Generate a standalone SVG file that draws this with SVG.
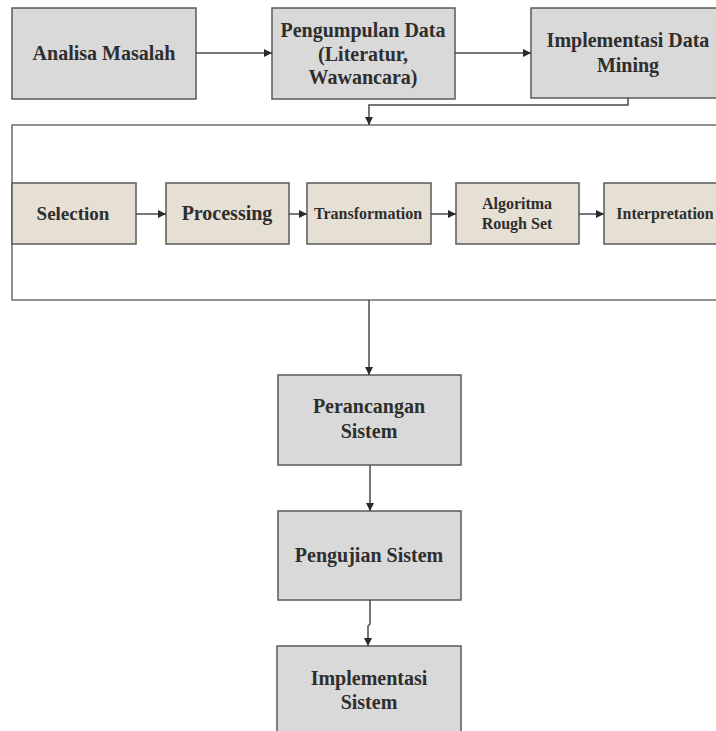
<svg xmlns="http://www.w3.org/2000/svg" width="716" height="731" viewBox="0 0 716 731">
<style>
.g{fill:#d9d9d9;stroke:#5a5a5a;stroke-width:1.5}
.b{fill:#e6e0d4;stroke:#5a5a5a;stroke-width:1.5}
.fr{fill:#ffffff;stroke:#6e6e6e;stroke-width:1.5}
.t{font-family:"Liberation Serif","Times New Roman",serif;font-weight:bold;fill:#2e2e2e;text-anchor:middle;font-size:20px}
.s{font-size:16px}
.c{fill:none;stroke:#4a4a4a;stroke-width:1.5}
</style>
<defs>
<marker id="ah" viewBox="0 0 10 10" refX="10" refY="5" markerWidth="8" markerHeight="8" markerUnits="userSpaceOnUse" orient="auto">
<path d="M0,0 L10,5 L0,10 z" fill="#2a2a2a"/>
</marker>
</defs>
<rect width="716" height="731" fill="#ffffff"/>
<g id="frame"><rect class="fr" x="12" y="125" width="720" height="175"/></g>
<g id="n1"><rect class="g" x="12" y="8" width="184" height="91"/><text class="t" x="104" y="60">Analisa Masalah</text></g>
<g id="n2"><rect class="g" x="272" y="8" width="183" height="91"/><text class="t" x="363" y="37">Pengumpulan Data</text><text class="t" x="363" y="61">(Literatur,</text><text class="t" x="363" y="84">Wawancara)</text></g>
<g id="n3"><rect class="g" x="531" y="8" width="200" height="90"/><text class="t" x="628" y="47">Implementasi Data</text><text class="t" x="628" y="72">Mining</text></g>
<g id="s1"><rect class="b" x="12" y="183" width="124" height="61"/><text class="t" x="73" y="220" style="font-size:19px">Selection</text></g>
<g id="s2"><rect class="b" x="166" y="183" width="123" height="61"/><text class="t" x="227" y="220">Processing</text></g>
<g id="s3"><rect class="b" x="307" y="183" width="124" height="61"/><text class="t s" x="368" y="219">Transformation</text></g>
<g id="s4"><rect class="b" x="456" y="183" width="123" height="61"/><text class="t s" x="517" y="209">Algoritma</text><text class="t s" x="517" y="229">Rough Set</text></g>
<g id="s5"><rect class="b" x="604" y="183" width="130" height="61"/><text class="t s" x="665" y="219">Interpretation</text></g>
<g id="n4"><rect class="g" x="278" y="375" width="183" height="90"/><text class="t" x="369" y="413">Perancangan</text><text class="t" x="369" y="438">Sistem</text></g>
<g id="n5"><rect class="g" x="278" y="511" width="183" height="89"/><text class="t" x="369" y="562">Pengujian Sistem</text></g>
<g id="n6"><rect class="g" x="277" y="646" width="184" height="100"/><text class="t" x="369" y="685">Implementasi</text><text class="t" x="369" y="709">Sistem</text></g>
<g id="connectors">
<line class="c" x1="196" y1="53" x2="272" y2="53" marker-end="url(#ah)"/>
<line class="c" x1="455" y1="53" x2="531" y2="53" marker-end="url(#ah)"/>
<polyline class="c" points="628,98 628,105 369,105 369,125" marker-end="url(#ah)"/>
<line class="c" x1="136" y1="214" x2="166" y2="214" marker-end="url(#ah)"/>
<line class="c" x1="289" y1="214" x2="307" y2="214" marker-end="url(#ah)"/>
<line class="c" x1="431" y1="214" x2="456" y2="214" marker-end="url(#ah)"/>
<line class="c" x1="579" y1="214" x2="604" y2="214" marker-end="url(#ah)"/>
<line class="c" x1="369" y1="300" x2="369" y2="375" marker-end="url(#ah)"/>
<line class="c" x1="370" y1="465" x2="370" y2="511" marker-end="url(#ah)"/>
<polyline class="c" points="370,600 370,624 368,626 368,646" marker-end="url(#ah)"/>
</g>
</svg>
